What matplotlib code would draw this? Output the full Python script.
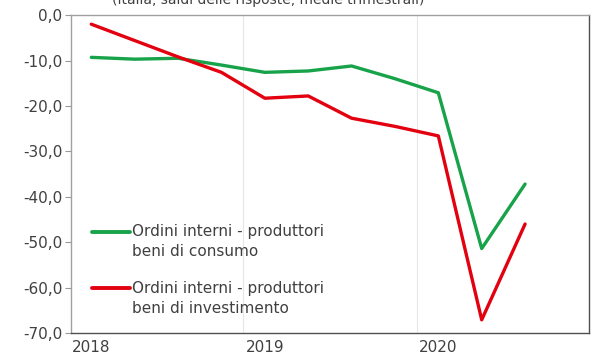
import matplotlib
matplotlib.use('Agg')
import matplotlib.pyplot as plt

"""
Ordini interni: produttori beni di consumo vs beni di investimento
"""

quarters = ['2018 T1', '2018 T2', '2018 T3', '2018 T4',
            '2019 T1', '2019 T2', '2019 T3', '2019 T4',
            '2020 T1', '2020 T2', '2020 T3']
consumo = [-9.3, -9.7, -9.5, -11.0, -12.6, -12.3, -11.2, -14.0, -17.1, -51.4, -37.2]
investimento = [-2.0, -5.6, -9.2, -12.6, -18.3, -17.8, -22.7, -24.5, -26.6, -67.1, -46.0]

year_labels = ['2018', '2019', '2020']
year_pos = [0, 4, 8]
year_bounds = [3.5, 7.5]

label_consumo = ['Ordini interni - produttori', 'beni di consumo']
label_invest = ['Ordini interni - produttori', 'beni di investimento']
title = '(Italia, saldi delle risposte, medie trimestrali)'

green = '#18a34a'
red = '#e3000f'
txt = '#404040'

fig = plt.figure(figsize=(5.96, 3.6), dpi=100)
ax = fig.add_axes([0.119, 0.075, 0.869, 0.883])

x = range(len(quarters))
ax.plot(x, consumo, color=green, lw=2.4, solid_capstyle='round')
ax.plot(x, investimento, color=red, lw=2.4, solid_capstyle='round')

for b in year_bounds:
    ax.axvline(b, color='#e6e6e6', lw=0.8, zorder=0)

ax.set_xlim(-0.47, 11.47)
ax.set_ylim(-70, 0)
ax.set_yticks(range(-70, 1, 10))
ax.set_yticklabels([f'{v:.1f}'.replace('.', ',') for v in range(-70, 1, 10)])
ax.set_xticks(year_pos)
ax.set_xticklabels(year_labels)
ax.tick_params(axis='y', length=4, color='#999999', labelcolor=txt, labelsize=11, pad=2)
ax.tick_params(axis='x', length=0, labelcolor=txt, labelsize=11, pad=5)

for s in ['left', 'top']:
    ax.spines[s].set_color('#a0a0a0')
for s in ['right', 'bottom']:
    ax.spines[s].set_color('#505050')
for s in ax.spines.values():
    s.set_linewidth(1.0)

# legend drawn by hand so the line sits on the first text row
for (yy, col, lab) in [(0.318, green, label_consumo), (0.1415, red, label_invest)]:
    ax.plot([0.0405, 0.114], [yy, yy], color=col, lw=2.8, transform=ax.transAxes,
            solid_capstyle='round', clip_on=False)
    ax.text(0.118, yy, lab[0], transform=ax.transAxes, va='center', ha='left',
            fontsize=11, color=txt)
    ax.text(0.118, yy - 0.063, lab[1], transform=ax.transAxes, va='center', ha='left',
            fontsize=11, color=txt)

fig.text(268 / 596, 1 - 4 / 360, title, ha='center', va='baseline', fontsize=10, color=txt)

fig.savefig('out.png', dpi=100, facecolor='white')
